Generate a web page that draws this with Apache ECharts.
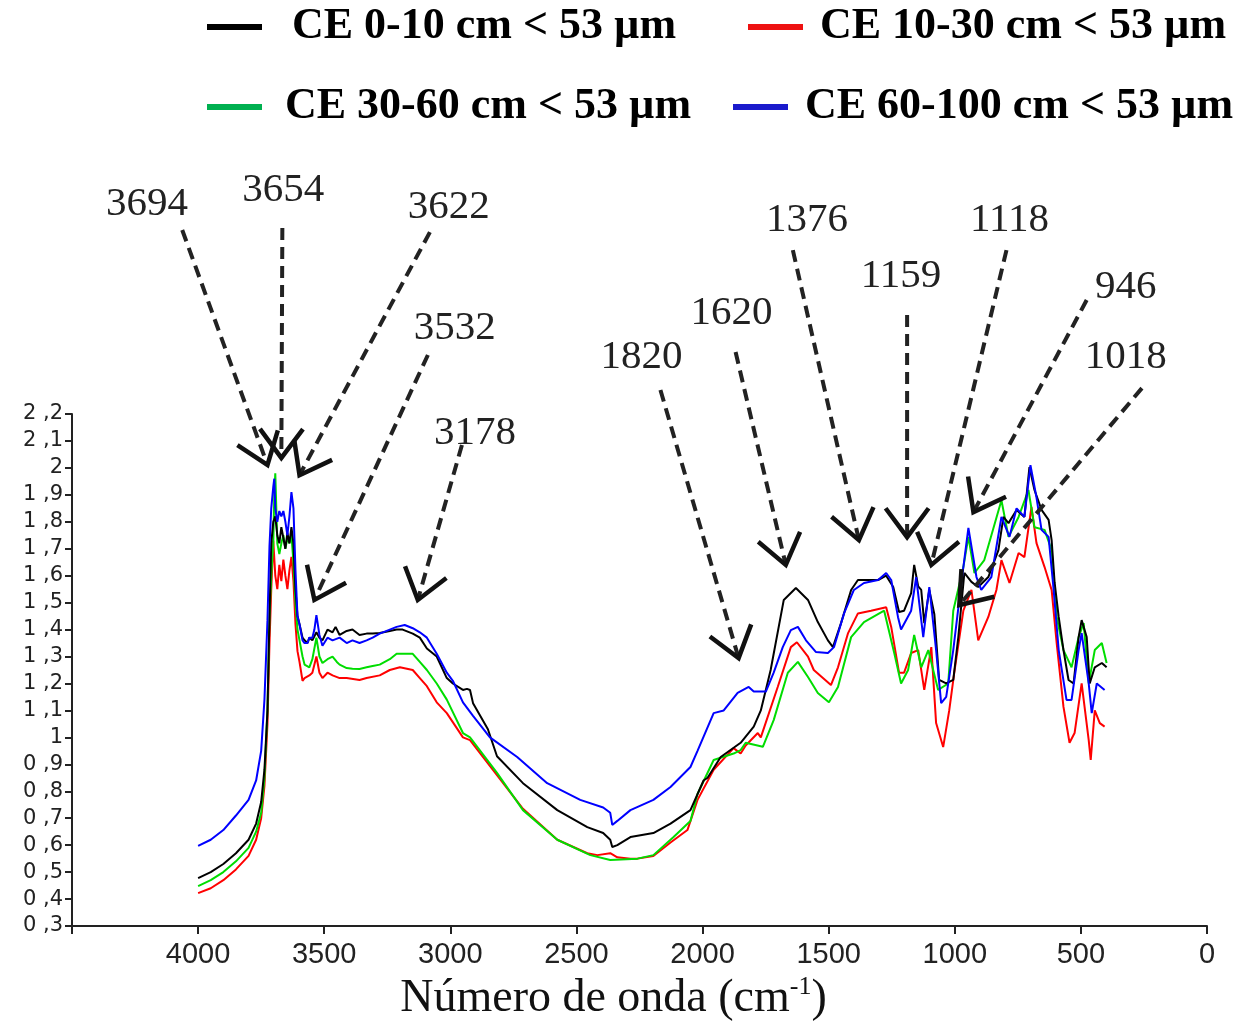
<!DOCTYPE html>
<html>
<head>
<meta charset="utf-8">
<script src="https://cdn.jsdelivr.net/npm/echarts@6/dist/echarts.min.js"></script>
<style>html,body{margin:0;padding:0;background:#fff;}#chart{width:1238px;height:1022px;}</style>
</head>
<body>
<div id="chart"></div>
<script>
// ---- data (wavenumber cm-1, absorbance) ----
const seriesNames = ['CE 0-10 cm < 53 µm', 'CE 10-30 cm < 53 µm', 'CE 30-60 cm < 53 µm', 'CE 60-100 cm < 53 µm'];
const xTicks = [0, 500, 1000, 1500, 2000, 2500, 3000, 3500, 4000];

const black = [[4000,0.478],[3950,0.50],[3900,0.53],[3850,0.57],[3800,0.62],[3770,0.68],[3750,0.76],[3737,0.88],[3725,1.10],[3717,1.45],[3710,1.72],[3702,1.80],[3694,1.82],[3686,1.75],[3678,1.72],[3670,1.78],[3662,1.74],[3654,1.70],[3646,1.76],[3638,1.72],[3630,1.78],[3622,1.72],[3614,1.55],[3606,1.45],[3598,1.42],[3586,1.37],[3578,1.36],[3566,1.35],[3559,1.37],[3547,1.36],[3531,1.39],[3519,1.37],[3507,1.36],[3487,1.40],[3467,1.39],[3455,1.41],[3439,1.38],[3411,1.395],[3388,1.40],[3360,1.38],[3332,1.385],[3308,1.385],[3280,1.387],[3240,1.395],[3213,1.40],[3189,1.40],[3149,1.385],[3121,1.37],[3093,1.33],[3054,1.30],[3014,1.22],[2990,1.20],[2950,1.176],[2934,1.18],[2922,1.176],[2910,1.127],[2851,1.03],[2815,0.93],[2712,0.83],[2576,0.73],[2457,0.667],[2394,0.645],[2366,0.62],[2358,0.593],[2338,0.60],[2286,0.63],[2195,0.645],[2127,0.68],[2048,0.73],[1996,0.84],[1980,0.85],[1928,0.927],[1849,0.98],[1797,1.04],[1769,1.10],[1730,1.25],[1678,1.51],[1630,1.554],[1582,1.51],[1543,1.428],[1503,1.36],[1483,1.335],[1451,1.424],[1411,1.547],[1384,1.584],[1304,1.584],[1272,1.60],[1244,1.558],[1221,1.465],[1201,1.47],[1173,1.535],[1161,1.64],[1145,1.56],[1133,1.547],[1121,1.424],[1101,1.547],[1081,1.457],[1062,1.213],[1034,1.20],[1006,1.213],[986,1.372],[962,1.61],[934,1.577],[907,1.558],[867,1.595],[827,1.695],[807,1.818],[787,1.795],[755,1.844],[724,1.818],[704,2.003],[684,1.918],[656,1.844],[628,1.807],[616,1.732],[604,1.573],[588,1.447],[569,1.324],[549,1.213],[529,1.20],[509,1.372],[497,1.435],[477,1.372],[465,1.20],[445,1.26],[417,1.276],[398,1.26]];

const red = [[4000,0.422],[3950,0.44],[3900,0.47],[3850,0.51],[3800,0.56],[3770,0.62],[3750,0.70],[3737,0.82],[3725,1.05],[3717,1.35],[3710,1.55],[3702,1.73],[3694,1.60],[3686,1.55],[3678,1.64],[3670,1.58],[3662,1.66],[3654,1.60],[3646,1.55],[3638,1.62],[3630,1.67],[3622,1.58],[3614,1.42],[3606,1.32],[3598,1.28],[3586,1.21],[3578,1.22],[3559,1.23],[3547,1.24],[3531,1.30],[3519,1.24],[3507,1.22],[3487,1.24],[3467,1.23],[3439,1.22],[3411,1.22],[3360,1.213],[3332,1.22],[3280,1.23],[3240,1.25],[3200,1.26],[3149,1.25],[3121,1.22],[3093,1.19],[3054,1.13],[3014,1.09],[2950,1.0],[2922,0.99],[2815,0.86],[2712,0.735],[2576,0.62],[2457,0.57],[2417,0.563],[2366,0.57],[2338,0.555],[2286,0.55],[2258,0.55],[2195,0.56],[2127,0.61],[2060,0.656],[2020,0.768],[1956,0.88],[1877,0.96],[1849,0.94],[1829,0.97],[1781,1.016],[1769,1.0],[1702,1.187],[1650,1.335],[1626,1.353],[1582,1.30],[1559,1.25],[1491,1.194],[1463,1.26],[1423,1.387],[1384,1.46],[1332,1.47],[1272,1.483],[1252,1.41],[1221,1.24],[1201,1.24],[1173,1.313],[1145,1.324],[1121,1.176],[1093,1.335],[1074,1.053],[1046,0.964],[1022,1.10],[1002,1.24],[966,1.47],[934,1.547],[907,1.36],[867,1.447],[835,1.547],[815,1.658],[783,1.573],[747,1.684],[724,1.669],[696,1.855],[676,1.721],[644,1.632],[616,1.547],[596,1.35],[569,1.113],[545,0.98],[525,1.016],[497,1.20],[469,0.99],[461,0.916],[445,1.10],[425,1.053],[406,1.04]];

const green = [[4000,0.448],[3950,0.47],[3900,0.50],[3850,0.54],[3800,0.59],[3770,0.65],[3750,0.72],[3737,0.85],[3725,1.10],[3717,1.45],[3710,1.60],[3702,1.72],[3698,1.90],[3694,1.98],[3686,1.72],[3678,1.68],[3670,1.72],[3662,1.75],[3654,1.70],[3646,1.74],[3638,1.72],[3630,1.75],[3622,1.65],[3614,1.50],[3606,1.40],[3598,1.36],[3586,1.30],[3578,1.27],[3559,1.26],[3547,1.29],[3531,1.37],[3519,1.30],[3507,1.276],[3487,1.29],[3467,1.30],[3450,1.28],[3439,1.27],[3411,1.257],[3388,1.255],[3360,1.254],[3332,1.26],[3308,1.265],[3280,1.27],[3240,1.29],[3213,1.31],[3181,1.31],[3149,1.31],[3121,1.28],[3093,1.25],[3054,1.20],[3014,1.14],[2950,1.016],[2922,1.0],[2815,0.868],[2712,0.73],[2576,0.62],[2445,0.563],[2366,0.545],[2258,0.55],[2195,0.563],[2115,0.63],[2048,0.69],[2020,0.79],[1956,0.916],[1877,0.94],[1849,0.953],[1829,0.98],[1761,0.965],[1718,1.064],[1662,1.24],[1622,1.28],[1582,1.224],[1543,1.165],[1499,1.13],[1463,1.187],[1411,1.372],[1360,1.428],[1280,1.47],[1240,1.313],[1213,1.20],[1185,1.25],[1161,1.38],[1133,1.26],[1105,1.324],[1066,1.176],[1026,1.20],[1006,1.47],[966,1.632],[946,1.744],[922,1.61],[883,1.658],[815,1.88],[787,1.744],[747,1.818],[708,1.918],[684,1.78],[644,1.77],[616,1.695],[596,1.447],[569,1.324],[537,1.26],[509,1.372],[489,1.424],[469,1.20],[445,1.324],[417,1.35],[398,1.276]];

const blue = [[4000,0.597],[3950,0.62],[3900,0.656],[3850,0.71],[3800,0.768],[3770,0.84],[3750,0.95],[3737,1.14],[3725,1.435],[3717,1.71],[3710,1.85],[3702,1.93],[3698,1.96],[3694,1.85],[3686,1.80],[3678,1.84],[3670,1.82],[3662,1.84],[3654,1.80],[3646,1.75],[3638,1.82],[3630,1.91],[3622,1.85],[3614,1.62],[3606,1.45],[3598,1.42],[3586,1.36],[3578,1.35],[3566,1.35],[3559,1.37],[3547,1.37],[3539,1.40],[3531,1.454],[3519,1.38],[3507,1.34],[3487,1.37],[3467,1.36],[3439,1.37],[3411,1.35],[3388,1.36],[3360,1.35],[3332,1.36],[3308,1.37],[3280,1.385],[3240,1.40],[3213,1.41],[3181,1.417],[3149,1.405],[3121,1.39],[3093,1.37],[3054,1.31],[3014,1.24],[2990,1.21],[2950,1.13],[2910,1.08],[2843,1.0],[2735,0.927],[2616,0.83],[2485,0.768],[2394,0.74],[2366,0.72],[2358,0.675],[2338,0.69],[2286,0.73],[2195,0.768],[2127,0.816],[2048,0.89],[2020,0.95],[1956,1.09],[1916,1.10],[1861,1.165],[1817,1.187],[1797,1.17],[1749,1.17],[1718,1.24],[1682,1.335],[1650,1.398],[1622,1.41],[1590,1.36],[1551,1.317],[1503,1.313],[1479,1.335],[1439,1.46],[1400,1.547],[1360,1.573],[1304,1.584],[1272,1.61],[1252,1.584],[1225,1.446],[1213,1.40],[1173,1.47],[1153,1.595],[1125,1.372],[1101,1.558],[1074,1.324],[1054,1.127],[1034,1.15],[1006,1.324],[974,1.573],[946,1.777],[914,1.595],[895,1.547],[855,1.595],[815,1.818],[783,1.744],[755,1.85],[724,1.818],[700,2.01],[676,1.89],[656,1.77],[628,1.744],[608,1.547],[588,1.324],[557,1.139],[537,1.139],[509,1.324],[497,1.387],[469,1.20],[457,1.09],[437,1.20],[406,1.176]];

// ---- band annotations: label text, arrow tip, arrow start, label anchor (data units) ----
const annText  = ['3694','3654','3622','3532','3178','1820','1620','1376','1159','1118','946','1018'];
const annTip   = [[3725,2.011],[3670,2.037],[3598,1.973],[3539,1.510],[3129,1.510],[1857,1.294],[1670,1.640],[1380,1.732],[1189,1.743],[1093,1.640],[926,1.836],[982,1.491]];
const annStart = [[4063,2.883],[3666,2.890],[3081,2.875],[3089,2.419],[2954,2.085],[2167,2.289],[1869,2.430],[1642,2.808],[1189,2.567],[795,2.808],[477,2.623],[258,2.296]];
const annLabel = [[4203,2.979],[3662,3.031],[3006,2.968],[2982,2.519],[2902,2.129],[2242,2.411],[1885,2.575],[1586,2.920],[1213,2.712],[783,2.920],[322,2.671],[322,2.411]];

const lineColors = ['#000000', '#ff0000', '#00dd00', '#0000ff'];
const legendColors = ['#000000', '#ee1111', '#00b050', '#1a1acc'];

const chart = echarts.init(document.getElementById('chart'));

const annData = annText.map((t, i) => [annTip[i][0], annTip[i][1], annStart[i][0], annStart[i][1], annLabel[i][0], annLabel[i][1]]);

function legendFor(i, left, top, gap) {
  return {
    data: [{ name: seriesNames[i], itemStyle: { color: legendColors[i] } }],
    left: left, top: top, padding: 0,
    icon: 'rect', itemWidth: 55, itemHeight: 6,
    selectedMode: false,
    textStyle: { fontFamily: 'Liberation Serif', fontWeight: 'bold', fontSize: 44, color: '#000', padding: [0, 0, 0, gap] }
  };
}

const option = {
  animation: false,
  backgroundColor: '#fff',
  legend: [
    legendFor(0, 207, 5, 25),
    legendFor(1, 748, 5, 12),
    legendFor(2, 207, 85, 18),
    legendFor(3, 733, 85, 12)
  ],
  grid: { left: 72, right: 31, top: 414, bottom: 96, containLabel: false, outerBoundsMode: 'none' },
  xAxis: {
    type: 'value', inverse: true, min: 0, max: 4500, interval: 500,
    axisLine: { show: true, onZero: false, lineStyle: { color: '#222', width: 2 } },
    axisTick: { show: true, length: 8, lineStyle: { color: '#222', width: 2 } },
    splitLine: { show: false },
    axisLabel: {
      margin: 14, fontFamily: 'Liberation Sans', fontSize: 29, color: '#222',
      formatter: v => (xTicks.indexOf(v) >= 0 ? String(v) : '')
    },
    name: '{a|Número de onda (cm}{b|-1}{a|)}',
    nameLocation: 'middle', nameGap: 44,
    nameTextStyle: {
      padding: [0, 52, 0, 0],
      rich: {
        a: { fontFamily: 'Liberation Serif', fontSize: 46, color: '#111', lineHeight: 50 },
        b: { fontFamily: 'Liberation Serif', fontSize: 26, color: '#111', verticalAlign: 'top', lineHeight: 50 }
      }
    }
  },
  yAxis: {
    type: 'value', min: 0.3, max: 2.2, interval: 0.1,
    axisLine: { show: true, onZero: false, lineStyle: { color: '#222', width: 2 } },
    axisTick: { show: true, length: 7, lineStyle: { color: '#222', width: 2 } },
    splitLine: { show: false },
    axisLabel: {
      margin: 9, fontFamily: 'DejaVu Sans', fontSize: 21, color: '#222',
      formatter: v => String(+v.toFixed(1)).replace('.', ' ,')
    }
  },
  series: [
    { name: seriesNames[0], type: 'line', data: black, showSymbol: false, lineStyle: { color: lineColors[0], width: 2 }, itemStyle: { color: lineColors[0] }, z: 3 },
    { name: seriesNames[1], type: 'line', data: red, showSymbol: false, lineStyle: { color: lineColors[1], width: 2 }, itemStyle: { color: lineColors[1] }, z: 2 },
    { name: seriesNames[2], type: 'line', data: green, showSymbol: false, lineStyle: { color: lineColors[2], width: 2 }, itemStyle: { color: lineColors[2] }, z: 2 },
    { name: seriesNames[3], type: 'line', data: blue, showSymbol: false, lineStyle: { color: lineColors[3], width: 2 }, itemStyle: { color: lineColors[3] }, z: 4 },
    {
      name: 'annotations', type: 'custom', clip: false, z: 10, silent: true,
      data: annData,
      encode: { x: 0, y: 1 },
      renderItem: function (params, api) {
        const tip = api.coord([api.value(0), api.value(1)]);
        const st = api.coord([api.value(2), api.value(3)]);
        const lb = api.coord([api.value(4), api.value(5)]);
        const dx = tip[0] - st[0], dy = tip[1] - st[1];
        const len = Math.hypot(dx, dy) || 1;
        const ux = dx / len, uy = dy / len;
        const L = 36, a = 0.64;
        const arm = s => {
          const c = Math.cos(s * a), sn = Math.sin(s * a);
          const rx = ux * c - uy * sn, ry = ux * sn + uy * c;
          return [tip[0] - L * rx, tip[1] - L * ry];
        };
        return {
          type: 'group',
          children: [
            { type: 'line', shape: { x1: st[0], y1: st[1], x2: tip[0] - 3 * ux, y2: tip[1] - 3 * uy },
              style: { stroke: '#222', lineWidth: 4, lineDash: [12, 7] } },
            { type: 'polyline', shape: { points: [arm(1), tip, arm(-1)] },
              style: { stroke: '#111', lineWidth: 4.5, fill: null, lineJoin: 'miter' } },
            { type: 'text', x: lb[0], y: lb[1],
              style: { text: annText[params.dataIndex], font: '41px "Liberation Serif"', fill: '#222', align: 'center', verticalAlign: 'middle' } }
          ]
        };
      }
    }
  ]
};
chart.setOption(option);
</script>
</body>
</html>
